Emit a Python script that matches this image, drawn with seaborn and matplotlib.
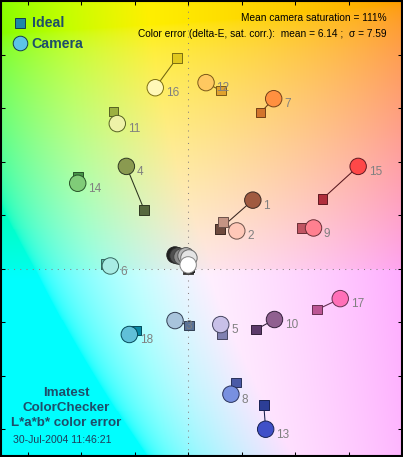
import numpy as np
import pandas as pd
import matplotlib
matplotlib.use("Agg")
import matplotlib.pyplot as plt
from matplotlib.lines import Line2D
import seaborn as sns

# ColorChecker patches: ideal (square) and camera (circle) a*, b* values
patch = [str(i) for i in range(1, 25)]
ideal_a = [11.9, 13.0, 0.3, -16.4, 12.6, -30.9, 27.1, 17.8, 42.4, 25.3, -27.9, 12.2,
           28.3, -41.3, 50.2, -4.1, 48.3, -19.4, 0.0, -0.3, -0.2, 0.0, 0.2, 0.3]
ideal_b = [14.8, 17.4, -21.3, 21.9, -24.6, 1.8, 58.3, -42.5, 15.2, -22.8, 58.7, 66.5,
           -51.0, 34.2, 26.0, 78.8, -15.3, -23.1, 0.5, 0.2, 0.0, -0.2, 0.3, 0.6]
cam_a = [24.2, 18.2, -4.9, -23.1, 12.2, -29.1, 32.0, 16.0, 46.9, 32.3, -26.5, 6.7,
         29.0, -41.3, 63.6, -12.3, 56.9, -22.0, 0.0, 0.3, -0.8, -2.3, -3.8, -4.9]
cam_b = [25.6, 14.1, -19.4, 38.2, -20.9, 1.0, 63.5, -46.9, 15.2, -19.0, 54.2, 69.5,
         -60.0, 31.9, 38.2, 67.6, -11.2, -24.6, 1.4, 4.0, 4.8, 4.4, 4.8, 5.1]
ideal_col = ["#6e4a3e", "#c49484", "#5a7296", "#56683e", "#8080b0", "#5ebcac",
             "#d2742c", "#4a5aa6", "#c05462", "#5c3a6a", "#9cb040", "#e0a22e",
             "#2c3e96", "#469648", "#b02e3c", "#e0c81e", "#bc5694", "#0888a4",
             "#f0f0f0", "#c8c8c8", "#a0a0a0", "#7a7a7a", "#555555", "#343434"]
cam_col = ["#a05a40", "#ffc8b8", "#a8c4dc", "#8a9a50", "#c8c0e8", "#a8ece4",
           "#ff9040", "#7890e0", "#ff8090", "#906090", "#eef2a8", "#ffc860",
           "#4050c8", "#80cc78", "#ff4848", "#fff8b8", "#ff70b8", "#60c0d8",
           "#ffffff", "#e4e4e4", "#b8b8b8", "#8c8c8c", "#505050", "#202020"]
n_labeled = 18

info1 = "Mean camera saturation = 111%"
info2 = "Color error (delta-E, sat. corr.):  mean = 6.14 ;  \u03c3 = 7.59"
title_lines = "Imatest\nColorChecker\nL*a*b* color error"
date_str = "30-Jul-2004 11:46:21"

xlim = (-70, 80)
ylim = (-70, 100)


def darken(c, f=0.55):
    r, g, b = matplotlib.colors.to_rgb(c)
    return (r * f, g * f, b * f)


def lab2rgb(L, a, b):
    fy = (L + 16) / 116
    fx = fy + a / 500
    fz = fy - b / 200
    d = 6 / 29

    def finv(t):
        return np.where(t > d, t ** 3, 3 * d * d * (t - 4 / 29))

    X = 0.95047 * finv(fx)
    Y = 1.0 * finv(fy)
    Z = 1.08883 * finv(fz)
    r = 3.2406 * X - 1.5372 * Y - 0.4986 * Z
    g = -0.9689 * X + 1.8758 * Y + 0.0415 * Z
    bb = 0.0557 * X - 0.2040 * Y + 1.0570 * Z
    rgb = np.clip(np.stack([r, g, bb], axis=-1), 0, 1)
    rgb = np.where(rgb > 0.0031308, 1.055 * rgb ** (1 / 2.4) - 0.055, 12.92 * rgb)
    return np.clip(rgb, 0, 1)


ideal = pd.DataFrame({"patch": patch, "a": ideal_a, "b": ideal_b,
                      "edge": [darken(c) for c in ideal_col]})
cam = pd.DataFrame({"patch": patch, "a": cam_a, "b": cam_b,
                    "edge": [darken(c) for c in ideal_col]})
# neutrals drawn dark -> light so the white patch sits on top
order = list(range(18)) + list(range(23, 17, -1))
cam = cam.iloc[order]

fig = plt.figure(figsize=(4.03, 4.57), dpi=100)
ax = fig.add_axes([1 / 403, 1 / 457, 401 / 403, 455 / 457])

# background a*b* colour field (upper and lower half rendered differently)
ga, gb = np.meshgrid(np.linspace(*xlim, 400), np.linspace(*ylim, 460))
Lbg = np.where(gb >= 0, 93.0, 96.0)
bbg = np.where(gb >= 0, gb, gb * 0.85 - 3)
bg = lab2rgb(Lbg, ga, bbg)
ax.imshow(bg, extent=[*xlim, *ylim], origin="lower", aspect="auto", zorder=0,
          interpolation="nearest")

ax.axhline(0, color="#888080", lw=0.75, ls=(0, (1, 5)), zorder=1)
ax.axvline(0, color="#888080", lw=0.75, ls=(0, (1, 5)), zorder=1)

for i in range(len(patch)):
    ax.plot([ideal_a[i], cam_a[i]], [ideal_b[i], cam_b[i]],
            color=darken(ideal_col[i], 0.5), lw=0.75, zorder=2)

sns.scatterplot(data=ideal, x="a", y="b", hue="patch",
                palette=dict(zip(patch, ideal_col)), marker="s", s=48,
                edgecolor=list(ideal["edge"]), linewidth=0.7,
                legend=False, ax=ax, zorder=3)
sns.scatterplot(data=cam, x="a", y="b", hue="patch",
                palette=dict(zip(patch, cam_col)), marker="o", s=140,
                edgecolor=list(cam["edge"]), linewidth=0.7,
                legend=False, ax=ax, zorder=4)

for i in range(n_labeled):
    ax.annotate(patch[i], (cam_a[i], cam_b[i]), xytext=(7.5, -4),
                textcoords="offset points", ha="left", va="center",
                fontsize=8.5, color="#808080", family="Liberation Sans", zorder=5)

ax.text(0.962, 0.962, info1, transform=ax.transAxes, ha="right", va="center",
        fontsize=7.3, family="Liberation Sans", color="black")
ax.text(0.962, 0.927, info2, transform=ax.transAxes, ha="right", va="center",
        fontsize=7.3, family="Liberation Sans", color="black")

ax.text(0.163, 0.105, title_lines, transform=ax.transAxes, ha="center",
        va="center", fontsize=9.6, fontweight="bold", family="Liberation Sans",
        color="#1e4e6a", linespacing=1.31)
ax.text(0.030, 0.036, date_str, transform=ax.transAxes, ha="left", va="center",
        fontsize=7.6, family="Liberation Sans", color="#1e3c5a")

handles = [
    Line2D([], [], ls="none", marker="s", markersize=6.5, markerfacecolor="#1a88a8",
           markeredgecolor="#123c50", markeredgewidth=0.7),
    Line2D([], [], ls="none", marker="o", markersize=10.5, markerfacecolor="#5cc4e6",
           markeredgecolor="#123c50", markeredgewidth=0.7),
]
ax.legend(handles, ["Ideal", "Camera"], loc="upper left", frameon=False,
          bbox_to_anchor=(-0.008, 0.994), handletextpad=0.1, labelspacing=0.45,
          prop={"family": "Liberation Sans", "weight": "bold", "size": 10.2},
          labelcolor="#1e4e6a", handlelength=1.4)

ax.set_xlim(*xlim)
ax.set_ylim(*ylim)
ax.set_xticks([-60, -40, -20, 0, 20, 40, 60])
ax.set_yticks([-60, -40, -20, 0, 20, 40, 60, 80])
ax.tick_params(direction="in", length=3, width=0.75, top=True, right=True,
               labelbottom=False, labelleft=False, color="black")
ax.set_xlabel("")
ax.set_ylabel("")
for sp in ax.spines.values():
    sp.set_linewidth(1.5)
    sp.set_color("black")

fig.savefig("out.png", dpi=100)
